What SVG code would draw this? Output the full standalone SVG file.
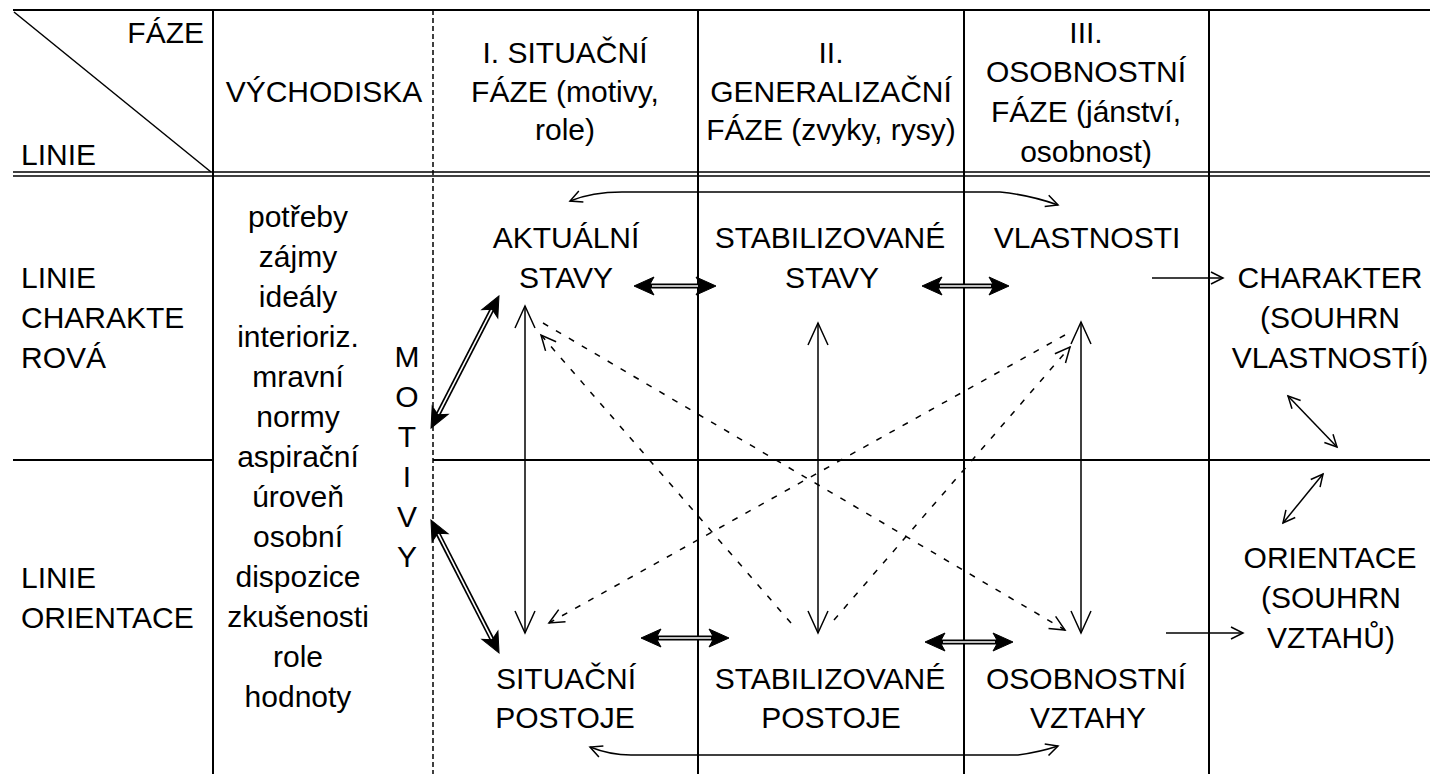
<svg xmlns="http://www.w3.org/2000/svg" width="1430" height="774" viewBox="0 0 1430 774">
<style>
.t{font-family:"Liberation Sans",Arial,sans-serif;font-size:30px;fill:#000;text-anchor:middle}
.s{text-anchor:start}
.e{text-anchor:end}
.g{stroke:#000;stroke-width:2;fill:none}
.g1{stroke:#000;stroke-width:1.5;fill:none}
.dv{stroke:#000;stroke-width:1.5;stroke-dasharray:5 3;fill:none}
.thin{stroke:#000;stroke-width:1.5;fill:none}
.dash{stroke:#000;stroke-width:1.5;stroke-dasharray:6 9;fill:none}
.bk{stroke:#000;stroke-width:5;fill:none}
.wh{stroke:#fff;stroke-width:1.6;fill:none}
</style>
<defs>
<marker id="vl" markerUnits="userSpaceOnUse" markerWidth="30" markerHeight="30" viewBox="-25 -15 30 30" refX="0" refY="0" orient="auto-start-reverse"><path d="M -22 -10 L 0 0 L -22 10" fill="none" stroke="#000" stroke-width="1.5"/></marker>
<marker id="vm" markerUnits="userSpaceOnUse" markerWidth="30" markerHeight="30" viewBox="-25 -15 30 30" refX="0" refY="0" orient="auto-start-reverse"><path d="M -15 -7 L 0 0 L -15 7" fill="none" stroke="#000" stroke-width="1.5" stroke-dasharray="none"/></marker>
<marker id="vs" markerUnits="userSpaceOnUse" markerWidth="30" markerHeight="30" viewBox="-25 -15 30 30" refX="0" refY="0" orient="auto-start-reverse"><path d="M -12 -6 L 0 0 L -12 6" fill="none" stroke="#000" stroke-width="1.5"/></marker>
<marker id="fb" markerUnits="userSpaceOnUse" markerWidth="40" markerHeight="30" viewBox="-25 -15 40 30" refX="0" refY="0" orient="auto-start-reverse"><path d="M 8 0 L -12 -9 L -7 0 L -12 9 z" fill="#000" stroke="#000" stroke-width="1"/></marker>
</defs>

<g id="grid">
<line class="g" x1="13" y1="10" x2="1430" y2="10"/>
<line class="g1" x1="13" y1="172" x2="1430" y2="172"/>
<line class="g1" x1="13" y1="176" x2="1430" y2="176"/>
<line class="g1" x1="14" y1="12" x2="211" y2="172"/>
<line class="g" x1="213" y1="10" x2="213" y2="774"/>
<line class="dv" x1="433" y1="10" x2="433" y2="774"/>
<line class="g" x1="698" y1="10" x2="698" y2="774"/>
<line class="g" x1="964" y1="10" x2="964" y2="774"/>
<line class="g" x1="1209" y1="10" x2="1209" y2="774"/>
<line class="g" x1="13" y1="460" x2="213" y2="460"/>
<line class="g" x1="433" y1="460" x2="1430" y2="460"/>
</g>

<g id="header">
<text class="t e" x="204" y="43">FÁZE</text>
<text class="t s" x="21" y="165">LINIE</text>
<text class="t" x="324" y="102">VÝCHODISKA</text>
<text class="t" x="565" y="63">I. SITUAČNÍ</text>
<text class="t" x="565" y="102">FÁZE (motivy,</text>
<text class="t" x="565" y="140">role)</text>
<text class="t" x="831" y="63">II.</text>
<text class="t" x="831" y="102">GENERALIZAČNÍ</text>
<text class="t" x="831" y="140">FÁZE (zvyky, rysy)</text>
<text class="t" x="1086" y="43">III.</text>
<text class="t" x="1086" y="82">OSOBNOSTNÍ</text>
<text class="t" x="1086" y="122">FÁZE (jánství,</text>
<text class="t" x="1086" y="162">osobnost)</text>
</g>

<g id="row-labels">
<text class="t s" x="21" y="288">LINIE</text>
<text class="t s" x="21" y="328">CHARAKTE</text>
<text class="t s" x="21" y="368">ROVÁ</text>
<text class="t s" x="21" y="588">LINIE</text>
<text class="t s" x="21" y="628">ORIENTACE</text>
</g>

<g id="vychodiska">
<text class="t" x="298" y="227">potřeby</text>
<text class="t" x="298" y="267">zájmy</text>
<text class="t" x="298" y="307">ideály</text>
<text class="t" x="298" y="347">interioriz.</text>
<text class="t" x="298" y="387">mravní</text>
<text class="t" x="298" y="427">normy</text>
<text class="t" x="298" y="467">aspirační</text>
<text class="t" x="298" y="507">úroveň</text>
<text class="t" x="298" y="547">osobní</text>
<text class="t" x="298" y="587">dispozice</text>
<text class="t" x="298" y="627">zkušenosti</text>
<text class="t" x="298" y="667">role</text>
<text class="t" x="298" y="707">hodnoty</text>
</g>

<g id="motivy">
<text class="t" x="407" y="367">M</text>
<text class="t" x="407" y="407">O</text>
<text class="t" x="407" y="447">T</text>
<text class="t" x="407" y="487">I</text>
<text class="t" x="407" y="527">V</text>
<text class="t" x="407" y="567">Y</text>
</g>

<g id="aktualni-stavy"><text class="t" x="566" y="248">AKTUÁLNÍ</text><text class="t" x="566" y="288">STAVY</text></g>
<g id="stabilizovane-stavy"><text class="t" x="830" y="248">STABILIZOVANÉ</text><text class="t" x="832" y="288">STAVY</text></g>
<g id="vlastnosti"><text class="t" x="1087" y="248">VLASTNOSTI</text></g>
<g id="charakter"><text class="t" x="1330" y="288">CHARAKTER</text><text class="t" x="1330" y="328">(SOUHRN</text><text class="t" x="1330" y="368">VLASTNOSTÍ)</text></g>
<g id="situacni-postoje"><text class="t" x="566" y="689">SITUAČNÍ</text><text class="t" x="565" y="728">POSTOJE</text></g>
<g id="stabilizovane-postoje"><text class="t" x="830" y="689">STABILIZOVANÉ</text><text class="t" x="831" y="728">POSTOJE</text></g>
<g id="osobnostni-vztahy"><text class="t" x="1086" y="689">OSOBNOSTNÍ</text><text class="t" x="1088" y="728">VZTAHY</text></g>
<g id="orientace"><text class="t" x="1330" y="568">ORIENTACE</text><text class="t" x="1331" y="608">(SOUHRN</text><text class="t" x="1331" y="648">VZTAHŮ)</text></g>

<g id="connectors">
<path class="thin" d="M 570 201 Q 592 192 622 192 L 1000 192 Q 1030 195 1058 205" marker-start="url(#vs)" marker-end="url(#vs)"/>
<path class="thin" d="M 590 747 Q 610 755 631 755 L 1018 755 Q 1040 752 1058 746" marker-start="url(#vs)" marker-end="url(#vs)"/>

<line class="thin" x1="525" y1="306" x2="525" y2="633" marker-start="url(#vl)" marker-end="url(#vl)"/>
<line class="thin" x1="818" y1="323" x2="818" y2="633" marker-start="url(#vl)" marker-end="url(#vl)"/>
<line class="thin" x1="1081" y1="322" x2="1081" y2="633" marker-start="url(#vl)" marker-end="url(#vl)"/>

<line class="thin" x1="1152" y1="278" x2="1223" y2="278" marker-end="url(#vs)"/>
<line class="thin" x1="1166" y1="633" x2="1243" y2="633" marker-end="url(#vs)"/>
<line class="thin" x1="1288" y1="396" x2="1337" y2="447" marker-start="url(#vs)" marker-end="url(#vs)"/>
<line class="thin" x1="1283" y1="523" x2="1323" y2="474" marker-start="url(#vs)" marker-end="url(#vs)"/>

<line class="dash" x1="543" y1="323" x2="1065" y2="630" marker-end="url(#vm)"/>
<line class="dash" x1="1065" y1="335" x2="549" y2="623" marker-end="url(#vm)"/>
<line class="dash" x1="791" y1="623" x2="541" y2="335" marker-end="url(#vm)"/>
<line class="dash" x1="834" y1="620" x2="1070" y2="347" marker-end="url(#vm)"/>

<line class="bk" x1="642" y1="286" x2="708" y2="286" marker-start="url(#fb)" marker-end="url(#fb)"/>
<line class="wh" x1="652" y1="286" x2="698" y2="286"/>
<line class="bk" x1="930" y1="286" x2="1001" y2="286" marker-start="url(#fb)" marker-end="url(#fb)"/>
<line class="wh" x1="940" y1="286" x2="991" y2="286"/>
<line class="bk" x1="649" y1="638" x2="721" y2="638" marker-start="url(#fb)" marker-end="url(#fb)"/>
<line class="wh" x1="659" y1="638" x2="711" y2="638"/>
<line class="bk" x1="933" y1="642" x2="1005" y2="642" marker-start="url(#fb)" marker-end="url(#fb)"/>
<line class="wh" x1="943" y1="642" x2="995" y2="642"/>

<line class="bk" x1="434.7" y1="420.9" x2="495.3" y2="303.1" marker-start="url(#fb)" marker-end="url(#fb)"/>
<line class="wh" x1="438.3" y1="413.8" x2="491.7" y2="310.2"/>
<line class="bk" x1="434.6" y1="527.1" x2="495.4" y2="645.9" marker-start="url(#fb)" marker-end="url(#fb)"/>
<line class="wh" x1="438.3" y1="534.2" x2="491.7" y2="638.8"/>
</g>
</svg>
